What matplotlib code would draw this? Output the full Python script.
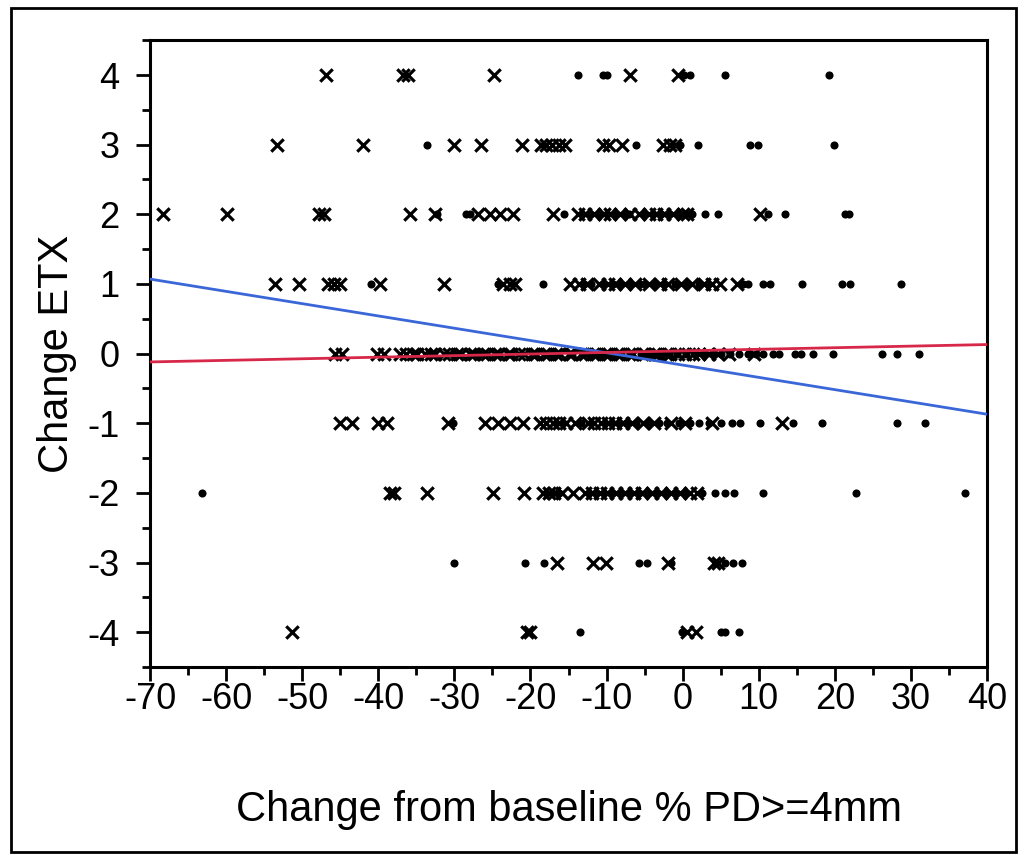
import matplotlib
matplotlib.use("Agg")
import matplotlib.pyplot as plt
from matplotlib.patches import Rectangle
from matplotlib.ticker import MultipleLocator

plt.rcParams['font.family'] = ['Liberation Sans', 'DejaVu Sans']
plt.rcParams['axes.unicode_minus'] = False

# ---- data: x positions (change from baseline % PD>=4mm) per ETX level ----
cross_4 = [-46.9, -36.8, -36.1, -24.8, -6.9, -0.6]
dot_4 = [-13.8, -10.5, -9.9, 0.2, 1.0, 5.6, 19.2]

cross_3 = [-53.3, -42.0, -30.1, -26.5, -21.1, -18.6, -17.9, -17.2, -16.3, -15.4,
           -10.5, -9.7, -8.0, -2.6, -1.7, -1.0]
dot_3 = [-33.6, -6.1, -0.3, 2.0, 8.8, 9.9, 19.9]

cross_2 = [-68.3, -59.9, -47.8, -47.2, -35.8, -32.6, -26.9, -25.3, -24.0, -22.3,
           -17.0, -13.8, -12.9, -11.6, -10.4, -9.5, -8.3, -6.9, -5.8, -4.4,
           -3.5, -2.4, -1.3, 0.1, 0.6, 10.2]
dot_2 = [-32.3, -28.5, -28.0, -15.6, -13.2, -12.2, -11.0, -9.9, -8.8, -7.6,
         -7.1, -5.1, -3.9, -2.9, -1.8, -0.6, 1.2, 2.9, 4.6, 11.2, 13.4, 21.3, 21.8]

cross_1 = [-53.6, -50.4, -46.6, -45.8, -45.0, -39.8, -31.4, -23.6, -22.7, -22.0,
           -14.8, -13.6, -12.6, -11.0, -9.8, -8.9, -7.6, -6.3, -4.4, -3.0,
           -1.9, -0.2, 1.2, 2.8, 3.9, 4.9, 7.1]
dot_1 = [-41.0, -24.3, -18.4, -13.0, -12.1, -10.5, -9.2, -8.3, -7.0, -5.6,
         -5.0, -3.7, -2.5, -1.0, 0.5, 2.1, 3.3, 7.9, 8.6, 10.6, 11.5, 15.7,
         20.9, 22.0, 28.7]

cross_0 = [-45.7, -44.8, -40.2, -39.2, -37.1, -36.3, -35.4, -34.9, -33.9, -33.1,
           -32.5, -31.4, -30.7, -29.6, -29.1, -28.0, -27.4, -26.3, -25.7, -24.6,
           -24.1, -23.0, -22.5, -21.5, -20.9, -19.8, -19.3, -18.2, -17.7, -16.6,
           -16.1, -15.0, -14.5, -13.4, -12.9, -11.8, -11.3, -10.2, -9.7, -8.6,
           -8.1, -7.0, -6.5, -5.4, -4.9, -3.8, -3.3, -2.2, -1.7, -0.6, 0.3,
           1.4, 2.2, 3.5, 4.6, 6.1, 9.4]
dot_0 = [-33.5, -30.2, -27.0, -22.5, -19.5, -17.0, -14.5, -12.2, -10.8, -9.4,
         -8.1, -6.9, -5.5, -4.3, -3.0, -1.8, -0.7, 0.5, 1.6, 2.8, 3.9, 5.1,
         6.2, 7.4, 8.6, 9.7, 10.6, 11.9, 12.7, 14.8, 15.6, 17.1, 19.7, 26.2,
         28.2, 31.0]

cross_m1 = [-45.0, -43.5, -40.0, -38.9, -30.8, -26.0, -24.3, -22.7, -21.0,
            -18.7, -17.9, -17.0, -16.2, -15.3, -14.1, -12.5, -11.6, -10.7,
            -9.8, -8.9, -7.9, -6.6, -5.2, -3.8, -1.5, 0.3, 3.9, 13.0]
dot_m1 = [-30.2, -16.6, -15.7, -13.3, -12.0, -10.2, -9.3, -8.4, -7.4, -6.1,
          -4.6, -3.1, -2.1, -0.5, 1.0, 2.2, 3.5, 5.0, 6.5, 7.5, 10.2, 14.5,
          18.3, 28.2, 31.8]

cross_m2 = [-38.5, -38.0, -33.6, -24.9, -20.9, -18.3, -17.6, -16.9, -15.9,
            -14.4, -12.8, -11.9, -10.9, -9.9, -8.8, -7.6, -6.4, -5.3, -4.0,
            -2.8, -1.5, -0.4, 0.9, 1.9]
dot_m2 = [-63.2, -18.0, -17.2, -16.3, -12.3, -11.4, -10.4, -9.3, -8.2, -7.0,
          -5.8, -4.6, -3.4, -2.2, -1.0, 0.4, 2.5, 4.2, 5.6, 6.8, 10.6, 22.8, 37.1]

cross_m3 = [-16.5, -11.8, -10.1, -1.9, 4.1, 4.6]
dot_m3 = [-30.1, -20.7, -18.2, -5.7, -4.7, -1.5, 5.6, 6.6, 7.8]

cross_m4 = [-51.3, -20.5, -20.1, 0.6, 1.7]
dot_m4 = [-13.5, -0.1, 5.0, 5.6, 7.4]

levels = [4, 3, 2, 1, 0, -1, -2, -3, -4]
cross_rows = [cross_4, cross_3, cross_2, cross_1, cross_0, cross_m1, cross_m2, cross_m3, cross_m4]
dot_rows = [dot_4, dot_3, dot_2, dot_1, dot_0, dot_m1, dot_m2, dot_m3, dot_m4]

# fitted lines (intercept, slope)
blue_fit = (-0.165, -0.01764)
red_fit = (0.039, 0.00227)
x_range = [-70, 40]

x_ticks = [-70, -60, -50, -40, -30, -20, -10, 0, 10, 20, 30, 40]
y_ticks = [-4, -3, -2, -1, 0, 1, 2, 3, 4]

# ---- figure ----
fig = plt.figure(figsize=(10.24, 8.55), dpi=100)
ax = fig.add_axes([0.1465, 0.2199, 0.8174, 0.7331])

for lvl, xs in zip(levels, cross_rows):
    ax.scatter(xs, [lvl] * len(xs), marker='x', s=80, c='black', linewidths=2.3, zorder=3)
for lvl, xs in zip(levels, dot_rows):
    ax.scatter(xs, [lvl] * len(xs), marker='o', s=34, c='black', linewidths=0, zorder=3)

for (b0, b1), col in [(blue_fit, '#3a66d8'), (red_fit, '#d8284a')]:
    ax.plot(x_range, [b0 + b1 * x_range[0], b0 + b1 * x_range[1]], color=col, lw=2.0, zorder=4)

ax.set_xlim(-70, 40)
ax.set_ylim(-4.5, 4.5)
ax.set_xticks(x_ticks)
ax.set_yticks(y_ticks)
ax.xaxis.set_minor_locator(MultipleLocator(5))
ax.yaxis.set_minor_locator(MultipleLocator(0.5))
ax.tick_params(which='major', direction='out', length=10, width=2, labelsize=26)
ax.tick_params(which='minor', direction='out', length=6, width=2)
ax.tick_params(axis='x', which='major', pad=1)
ax.tick_params(axis='y', which='major', pad=12)
for sp in ax.spines.values():
    sp.set_linewidth(2.2)

ax.set_xlabel('Change from baseline % PD>=4mm', fontsize=30)
ax.set_ylabel('Change ETX', fontsize=30)
ax.xaxis.set_label_coords(0.5, -0.196)
ax.yaxis.set_label_coords(-0.0875, 0.5)

fig.patches.append(Rectangle((0.011, 0.004), 0.981, 0.987, transform=fig.transFigure,
                             fill=False, edgecolor='black', linewidth=2.0))

fig.savefig('out.png', dpi=100)
